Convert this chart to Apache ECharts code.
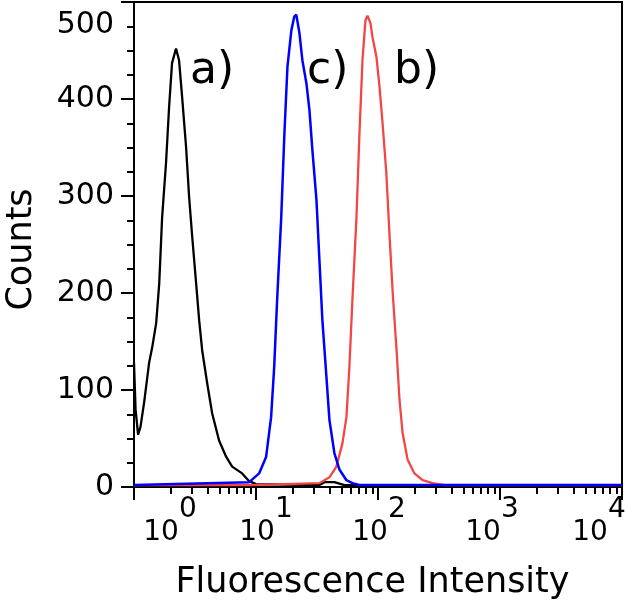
<!DOCTYPE html>
<html><head><meta charset="utf-8">
<script src="https://cdn.jsdelivr.net/npm/echarts@6/dist/echarts.min.js"></script>
<style>html,body{margin:0;padding:0;background:#fff}#c{width:625px;height:603px}</style>
</head><body><div id="c"></div>
<script>
// ---- data ----
const aX =      [1.00, 1.03, 1.08, 1.13, 1.21, 1.33, 1.41, 1.52, 1.61, 1.70, 1.83, 1.94, 2.05, 2.21, 2.34, 2.48, 2.67, 2.83, 3.00, 3.23, 3.42, 3.62, 3.98, 4.37, 4.98, 5.70, 6.38, 7.70, 8.80, 10.0, 33.1, 36.4, 43.9, 53.1, 64.1, 10000];
const aCounts = [128,  80,   54,   62,   87,   128,  144,  169,  210,  278,  334,  392,  437,  452,  440,  402,  351,  299,  258,  210,  172,  141,  107,  76,   48,   31,   21,   14,   6,    3,    2,    5,    5,    2,    2,    2];

const bX =      [1.00, 8.80, 33.1, 40.0, 45.6, 51.1, 55.1, 58.3, 61.7, 66.6, 70.5, 74.6, 78.9, 82.0, 86.8, 90.1, 97.2, 103, 109, 117, 124, 132, 142, 150, 159, 175, 199, 232, 280, 352, 10000];
const bCounts = [2,    2,    4,    10,   21,   45,   72,   124,  193,  278,  365,  440,  481,  486,  478,  464,  443,  412, 375, 324, 262, 200, 141, 90,  56,  28,  14,  7,   4,   2,   2];

const cX =      [1.00, 8.80, 10.6, 12.1, 13.3, 14.1, 14.9, 16.1, 17.1, 18.1, 19.5, 20.6, 21.4, 22.7, 24.0, 25.9, 27.4, 29.0, 31.3, 33.1, 35.0, 37.8, 40.0, 43.9, 48.3, 55.1, 61.7, 70.5, 10000];
const cCounts = [2,    5,    14,   31,   72,   124,  193,  278,  365,  433,  471,  485,  487,  468,  440,  416,  389,  347,  296,  234,  172,  113,  69,   35,   18,   7,    4,    2,    2];

const xTickExponents = [0, 1, 2, 3, 4];
const curveLabels = ['a)', 'c)', 'b)'];

// ---- styling ----
const FONT = 'DejaVu Sans';
const xLabelShift = [36, 10, 1, -8, -23];
const pairs = (xs, ys) => xs.map((x, i) => [x, ys[i]]);

const xRich = {
  b: {fontSize: 28, fontFamily: FONT, color: '#000', verticalAlign: 'bottom'},
  s: {fontSize: 28, fontFamily: FONT, color: '#000', verticalAlign: 'top'}
};
xTickExponents.forEach((e, i) => {
  xRich['g' + e] = {width: 2 * Math.abs(xLabelShift[i]), lineHeight: 51, fontSize: 28, fontFamily: FONT};
});

const chart = echarts.init(document.getElementById('c'), null, {renderer: 'canvas'});
chart.setOption({
  animation: false,
  backgroundColor: '#fff',
  grid: {left: 134, right: 3, top: 2, bottom: 116, show: true, borderColor: '#000', borderWidth: 2,
         backgroundColor: 'transparent', containLabel: false, outerBoundsMode: 'none'},
  xAxis: {
    type: 'log', logBase: 10, min: 1, max: 10000,
    name: 'Fluorescence Intensity', nameLocation: 'middle', nameGap: 78,
    nameTextStyle: {fontSize: 35, fontFamily: FONT, color: '#000', padding: [0, 11, 0, 0]},
    axisLine: {show: true, lineStyle: {color: '#000', width: 2}},
    axisTick: {show: true, inside: false, length: 13, lineStyle: {color: '#000', width: 2}},
    minorTick: {show: true, splitNumber: 9, length: 7, lineStyle: {color: '#000', width: 2}},
    splitLine: {show: false}, minorSplitLine: {show: false},
    axisLabel: {
      margin: 9, color: '#000', fontFamily: FONT, fontSize: 28,
      formatter: v => {
        const e = Math.round(Math.log10(v));
        const i = xTickExponents.indexOf(e);
        const sp = '{g' + e + '| }';
        const body = '{b|10}{s|' + e + '}';
        return xLabelShift[i] >= 0 ? sp + body : body + sp;
      },
      rich: xRich
    }
  },
  yAxis: {
    type: 'value', min: 0, max: 500, interval: 100,
    name: 'Counts', nameLocation: 'middle', nameGap: 95,
    nameTextStyle: {fontSize: 35, fontFamily: FONT, color: '#000', padding: [0, 10, 0, 0]},
    axisLine: {show: true, lineStyle: {color: '#000', width: 2}},
    axisTick: {show: true, inside: false, length: 13, lineStyle: {color: '#000', width: 2}},
    minorTick: {show: true, splitNumber: 4, length: 7, lineStyle: {color: '#000', width: 2}},
    splitLine: {show: false}, minorSplitLine: {show: false},
    axisLabel: {
      margin: 20, color: '#000', fontFamily: FONT, fontSize: 30,
      formatter: v => v === 500 ? '{t|500}' : String(v),
      rich: {t: {padding: [46, 0, 0, 0], fontSize: 30, fontFamily: FONT, color: '#000'}}
    }
  },
  series: [
    {name: 'a', type: 'line', data: pairs(aX, aCounts), showSymbol: false, z: 2,
     lineStyle: {color: '#000000', width: 2.3}, itemStyle: {color: '#000000'}},
    {name: 'b', type: 'line', data: pairs(bX, bCounts), showSymbol: false, z: 3,
     lineStyle: {color: '#f44545', width: 2.3}, itemStyle: {color: '#f44545'}},
    {name: 'c', type: 'line', data: pairs(cX, cCounts), showSymbol: false, z: 4,
     lineStyle: {color: '#0000ff', width: 2.5}, itemStyle: {color: '#0000ff'}}
  ],
  graphic: [
    {type: 'text', x: 190, y: 72, style: {text: curveLabels[0], font: '44px "DejaVu Sans"', fill: '#000', align: 'left', verticalAlign: 'middle'}},
    {type: 'text', x: 307, y: 72, style: {text: curveLabels[1], font: '44px "DejaVu Sans"', fill: '#000', align: 'left', verticalAlign: 'middle'}},
    {type: 'text', x: 394, y: 72, style: {text: curveLabels[2], font: '44px "DejaVu Sans"', fill: '#000', align: 'left', verticalAlign: 'middle'}}
  ]
});
</script>
</body></html>
